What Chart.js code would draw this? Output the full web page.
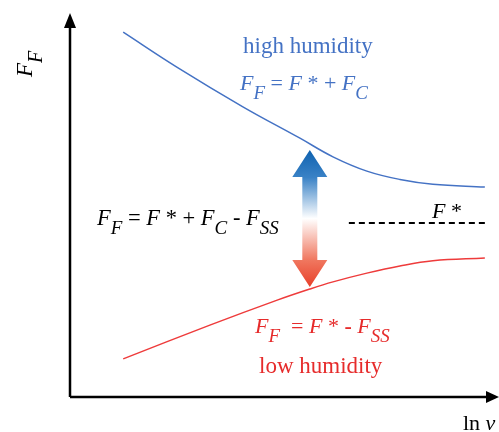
<!DOCTYPE html>
<html>
<head>
<meta charset="utf-8">
<script src="https://cdn.jsdelivr.net/npm/chart.js@4"></script>
<style>
  body { margin: 0; background: #fff; }
  #wrap { width: 499px; height: 432px; }
</style>
</head>
<body>
<div id="wrap"><canvas id="chart"></canvas></div>
<script>
// schematic values, arbitrary units (x = ln v, y = F_F)
const highX = [1.24, 2.49, 4.03, 5.36, 6.13, 6.92, 7.69, 8.46, 9.67];
const highY = [9.19, 8.31, 7.31, 6.52, 6.05, 5.69, 5.48, 5.36, 5.29];
const lowX = [1.24, 3.26, 4.83, 5.59, 6.13, 6.92, 7.69, 8.46, 9.67];
const lowY = [0.96, 1.81, 2.44, 2.72, 2.90, 3.12, 3.30, 3.43, 3.50];
const starX = [6.5, 9.7];
const starY = [4.38, 4.38];
// double arrow: x, top tip, bottom tip
const arrowX = 5.59;
const arrowY = [6.22, 2.77];

const blue = '#4472C4';
const red = '#EE3B3B';
const redText = '#E62B2B';
const serif = '"Liberation Serif", "DejaVu Serif", serif';

function pts(xs, ys) {
    return xs.map((x, i) => ({ x: x, y: ys[i] }));
}

// draws F_F = ... style text; parts are [text, kind] with kind r / i / s (subscript) / b (bold)
function rich(ctx, x, y, parts, size, color) {
    ctx.fillStyle = color;
    ctx.textBaseline = 'alphabetic';
    ctx.textAlign = 'left';
    parts.forEach(p => {
        let [t, k] = p;
        if (k === 's') {
            ctx.font = 'italic ' + Math.round(size * 0.85) + 'px ' + serif;
            ctx.fillText(t, x, y + size * 0.42);
        } else {
            ctx.font = (k === 'i' ? 'italic ' : k === 'b' ? 'bold ' : '') + size + 'px ' + serif;
            ctx.fillText(t, x, y);
        }
        x += ctx.measureText(t).width;
    });
}

const decor = {
    id: 'decor',
    afterDraw(chart) {
        const ctx = chart.ctx;
        const xs = chart.scales.x, ys = chart.scales.y;
        const a = chart.chartArea;
        ctx.save();

        // axes with arrow heads
        ctx.strokeStyle = '#000';
        ctx.fillStyle = '#000';
        ctx.lineWidth = 2.5;
        ctx.beginPath();
        ctx.moveTo(a.left, a.bottom);
        ctx.lineTo(a.left, 26);
        ctx.moveTo(a.left, a.bottom);
        ctx.lineTo(488, a.bottom);
        ctx.stroke();
        ctx.beginPath();
        ctx.moveTo(a.left, 13);
        ctx.lineTo(a.left - 6, 28);
        ctx.lineTo(a.left + 6, 28);
        ctx.closePath();
        ctx.fill();
        ctx.beginPath();
        ctx.moveTo(499, a.bottom);
        ctx.lineTo(486, a.bottom - 6);
        ctx.lineTo(486, a.bottom + 6);
        ctx.closePath();
        ctx.fill();

        // double arrow between the curves
        const ax = xs.getPixelForValue(arrowX);
        const top = ys.getPixelForValue(arrowY[0]);
        const bot = ys.getPixelForValue(arrowY[1]);
        const hw = 17.5, sw = 7.5, hh = 27;
        const g = ctx.createLinearGradient(0, top, 0, bot);
        g.addColorStop(0, '#0F62B0');
        g.addColorStop(0.2, '#3A82C6');
        g.addColorStop(0.5, '#FFFFFF');
        g.addColorStop(0.8, '#F07860');
        g.addColorStop(1, '#E8402A');
        ctx.fillStyle = g;
        ctx.beginPath();
        ctx.moveTo(ax, top);
        ctx.lineTo(ax + hw, top + hh);
        ctx.lineTo(ax + sw, top + hh);
        ctx.lineTo(ax + sw, bot - hh);
        ctx.lineTo(ax + hw, bot - hh);
        ctx.lineTo(ax, bot);
        ctx.lineTo(ax - hw, bot - hh);
        ctx.lineTo(ax - sw, bot - hh);
        ctx.lineTo(ax - sw, top + hh);
        ctx.lineTo(ax - hw, top + hh);
        ctx.closePath();
        ctx.fill();

        // labels
        ctx.font = '23px ' + serif;
        ctx.fillStyle = blue;
        ctx.fillText('high humidity', 243, 53);
        rich(ctx, 240, 90, [['F', 'i'], ['F', 's'], [' = ', 'r'], ['F', 'i'], [' * + ', 'r'], ['F', 'i'], ['C', 's']], 22, blue);

        rich(ctx, 97, 225, [['F', 'i'], ['F', 's'], [' = ', 'r'], ['F', 'i'], [' * + ', 'r'], ['F', 'i'], ['C', 's'], [' - ', 'r'], ['F', 'i'], ['SS', 's']], 22.5, '#000');
        rich(ctx, 432, 218, [['F', 'i'], [' *', 'r']], 22, '#000');

        rich(ctx, 255, 333, [['F', 'i'], ['F', 's'], ['  = ', 'r'], ['F', 'i'], [' * ', 'r'], ['-', 'b'], [' ', 'r'], ['F', 'i'], ['SS', 's']], 22, redText);
        ctx.font = '23px ' + serif;
        ctx.fillStyle = redText;
        ctx.fillText('low humidity', 259, 373);

        rich(ctx, 463, 430, [['ln ', 'r'], ['v', 'i']], 22, '#000');

        // y axis title, rotated
        ctx.save();
        ctx.translate(32, 77);
        ctx.rotate(-Math.PI / 2);
        rich(ctx, 0, 0, [['F', 'i'], ['F', 's']], 23, '#000');
        ctx.restore();

        ctx.restore();
    }
};

new Chart(document.getElementById('chart').getContext('2d'), {
    type: 'line',
    data: {
        datasets: [{
            label: 'high humidity',
            data: pts(highX, highY),
            borderColor: blue,
            borderWidth: 1.5,
            pointRadius: 0,
            tension: 0.4
        }, {
            label: 'low humidity',
            data: pts(lowX, lowY),
            borderColor: red,
            borderWidth: 1.5,
            pointRadius: 0,
            tension: 0.4
        }, {
            label: 'F*',
            data: pts(starX, starY),
            borderColor: '#000',
            borderWidth: 2,
            borderDash: [6, 4],
            pointRadius: 0
        }]
    },
    options: {
        responsive: true,
        maintainAspectRatio: false,
        animation: false,
        layout: { padding: { left: 70, right: 0, top: 0, bottom: 35 } },
        plugins: { legend: { display: false }, tooltip: { enabled: false } },
        scales: {
            x: { type: 'linear', min: 0, max: 10, display: false },
            y: { type: 'linear', min: 0, max: 10, display: false }
        }
    },
    plugins: [decor]
});
</script>
</body>
</html>
